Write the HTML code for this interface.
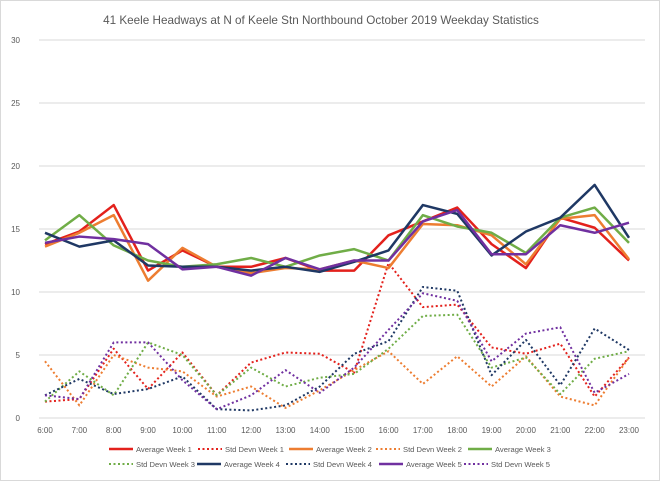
<!DOCTYPE html>
<html><head><meta charset="utf-8"><style>
body{margin:0;background:#fff;font-family:"Liberation Sans",sans-serif}
#wrap{position:relative;width:658px;height:479px;border:1px solid #d9d9d9}
</style></head><body>
<div id="wrap">
<svg id="chart" width="658" height="479"></svg>
</div>
<script>
const categories=["6:00","7:00","8:00","9:00","10:00","11:00","12:00","13:00","14:00","15:00","16:00","17:00","18:00","19:00","20:00","21:00","22:00","23:00"];
const avgWeek1=[13.8,14.8,16.9,11.7,13.3,12.0,12.0,12.7,11.7,11.7,14.5,15.6,16.7,13.8,11.9,15.9,15.1,12.5];
const stdWeek1=[1.3,1.5,5.5,2.3,5.2,1.8,4.4,5.2,5.1,3.6,12.3,8.8,9.0,5.6,5.1,5.9,1.7,4.8];
const avgWeek2=[13.6,14.7,16.1,10.9,13.5,12.0,11.5,11.9,11.8,12.5,11.9,15.4,15.3,14.5,12.2,15.8,16.1,12.6];
const stdWeek2=[4.5,1.0,5.0,4.0,3.7,1.7,2.5,0.8,2.2,3.8,5.3,2.7,4.9,2.5,4.9,1.7,1.0,4.8];
const avgWeek3=[14.1,16.1,13.7,12.5,12.0,12.2,12.7,12.0,12.9,13.4,12.5,16.1,15.2,14.7,13.1,15.9,16.7,13.9];
const stdWeek3=[1.3,3.7,1.8,6.0,5.0,1.8,4.0,2.5,3.2,3.5,5.5,8.1,8.2,4.0,4.8,1.9,4.7,5.3];
const avgWeek4=[14.7,13.6,14.1,12.1,12.0,12.0,11.7,12.0,11.6,12.4,13.3,16.9,16.2,12.9,14.8,15.9,18.5,14.3];
const stdWeek4=[1.8,3.1,1.9,2.3,3.3,0.7,0.6,1.0,2.5,5.1,6.1,10.4,10.1,3.4,6.2,2.6,7.1,5.4];
const avgWeek5=[13.9,14.4,14.2,13.8,11.8,12.0,11.3,12.7,11.8,12.5,12.5,15.6,16.5,13.0,13.0,15.3,14.7,15.5];
const stdWeek5=[1.8,1.5,6.0,6.0,3.0,0.7,1.8,3.8,2.0,4.0,7.0,9.9,9.3,4.5,6.7,7.2,2.0,3.5];
const yTicks=[0,5,10,15,20,25,30];
const seriesNames=["Average Week 1","Std Devn Week 1","Average Week 2","Std Devn Week 2","Average Week 3","Std Devn Week 3","Average Week 4","Std Devn Week 4","Average Week 5","Std Devn Week 5"];

const NS="http://www.w3.org/2000/svg";
const svg=document.getElementById('chart');
const x0=44,x1=628,y0=417,yTop=39;
const xs=i=>x0+i*(x1-x0)/(categories.length-1);
const ys=v=>y0-v*(y0-yTop)/30;
function el(t,a,p){const e=document.createElementNS(NS,t);for(const k in a)e.setAttribute(k,a[k]);(p||svg).appendChild(e);return e;}

let t=el('text',{x:320,y:23,'text-anchor':'middle','font-size':11.7,fill:'#595959'});
t.textContent="41 Keele Headways at N of Keele Stn Northbound October 2019 Weekday Statistics";



yTicks.forEach(v=>{
  const g=el('line',{x1:x0-6,x2:x1+16,y1:ys(v),y2:ys(v),stroke:'#d9d9d9','stroke-width':1});
  
  
  const l=el('text',{x:19,y:ys(v)+3,'text-anchor':'end','font-size':8,fill:'#595959'});
  l.textContent=v;
  
  
});
categories.forEach((c,i)=>{
  const l=el('text',{x:xs(i),y:432,'text-anchor':'middle','font-size':8,fill:'#595959'});
  l.textContent=c;
  
  
});

const data=[avgWeek1,stdWeek1,avgWeek2,stdWeek2,avgWeek3,stdWeek3,avgWeek4,stdWeek4,avgWeek5,stdWeek5];
const colors=["#e3211c","#e3211c","#ed7d31","#ed7d31","#70ad47","#70ad47","#1f3864","#1f3864","#7030a0","#7030a0"];
const order=[1,3,5,7,9,0,2,4,6,8];
order.forEach(k=>{
  const dotted=k%2===1;
  const p=el('polyline',{points:data[k].map((v,i)=>xs(i)+','+ys(v)).join(' '),fill:'none',stroke:colors[k],'stroke-width':dotted?2:2.5,'stroke-dasharray':dotted?'2,2.5':'none','stroke-linejoin':'round'});
  
  
});

const legendLineX=[[108,197,288,375,467],[108,196,285,378,463]];
seriesNames.forEach((n,k)=>{
  const row=Math.floor(k/5),col=k%5;
  const y=448+row*15;
  const xL=legendLineX[row][col];
  const g=el('g',{});
  
  
  const dotted=k%2===1;
  el('line',{x1:xL,x2:xL+24,y1:y,y2:y,stroke:colors[k],'stroke-width':dotted?2:2.5,'stroke-dasharray':dotted?'2,2.5':'none'},g);
  const tx=el('text',{x:xL+27,y:y+3,'font-size':7.6,fill:'#595959'},g);
  tx.textContent=n;
});
</script>
</body></html>
